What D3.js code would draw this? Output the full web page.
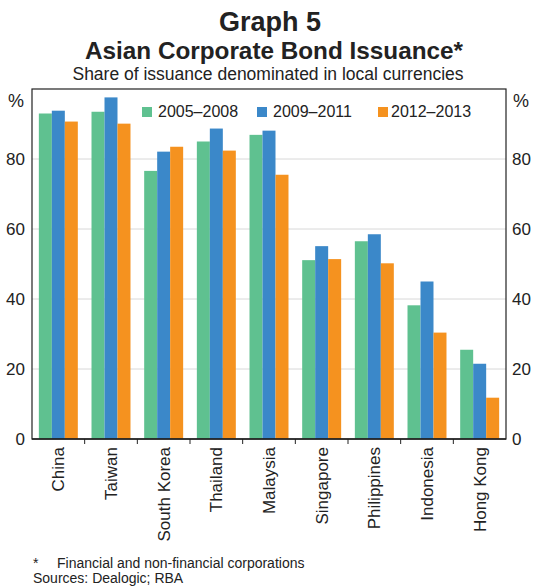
<!DOCTYPE html>
<html>
<head>
<meta charset="utf-8">
<script src="https://cdn.jsdelivr.net/npm/d3@7"></script>
<style>
  body { margin: 0; background: #fff; }
  svg { font-family: Arial, "Liberation Sans", sans-serif; }
</style>
</head>
<body>
<svg id="chart" width="535" height="588"></svg>
<script>
// Data
let countries = ['China', 'Taiwan', 'South Korea', 'Thailand', 'Malaysia', 'Singapore', 'Philippines', 'Indonesia', 'Hong Kong'];
let seriesNames = ['2005–2008', '2009–2011', '2012–2013'];
let s2005 = [93.0, 93.5, 76.6, 85.0, 86.9, 51.1, 56.5, 38.2, 25.5];
let s2009 = [93.8, 97.6, 82.1, 88.7, 88.1, 55.1, 58.5, 45.0, 21.5];
let s2012 = [90.7, 90.1, 83.5, 82.4, 75.5, 51.4, 50.2, 30.4, 11.8];
let yTicks = [0, 20, 40, 60, 80];
let colors = ['#5fc190', '#3b88c9', '#f5921f'];

let svg = d3.select('#chart');
let plotLeft = 32, plotRight = 506, plotTop = 89, plotBottom = 439;
let ink = '#222';

let x = d3.scaleBand().domain(countries).range([plotLeft, plotRight]).paddingInner(0.26).paddingOuter(0.13);
let xs = d3.scaleBand().domain(seriesNames).range([0, x.bandwidth()]);
let y = d3.scaleLinear().domain([0, 100]).range([plotBottom, plotTop]);

//Titulos
svg.append('text').attr('x', 270).attr('y', 31).attr('text-anchor', 'middle')
    .attr('font-size', 27).attr('font-weight', 'bold').attr('fill', ink).text('Graph 5');
svg.append('text').attr('x', 274).attr('y', 59).attr('text-anchor', 'middle')
    .attr('font-size', 24.3).attr('font-weight', 'bold').attr('fill', ink).text('Asian Corporate Bond Issuance*');
svg.append('text').attr('x', 268).attr('y', 80).attr('text-anchor', 'middle')
    .attr('font-size', 17.5).attr('fill', ink).text('Share of issuance denominated in local currencies');

//Rejilla
svg.append('g').selectAll('line').data(yTicks.filter(d => d > 0)).enter().append('line')
    .attr('x1', plotLeft).attr('x2', plotRight)
    .attr('y1', d => y(d)).attr('y2', d => y(d))
    .attr('stroke', '#d8d8d8').attr('stroke-width', 1);

//Barras
let data = countries.map((c, i) => ({country: c, values: [s2005[i], s2009[i], s2012[i]]}));
svg.append('g').selectAll('g').data(data).enter().append('g')
    .attr('transform', d => 'translate(' + x(d.country) + ',0)')
    .selectAll('rect').data(d => d.values.map((v, j) => ({name: seriesNames[j], v: v, j: j})))
    .enter().append('rect')
    .attr('x', d => xs(d.name))
    .attr('width', xs.bandwidth())
    .attr('y', d => y(d.v))
    .attr('height', d => y(0) - y(d.v))
    .attr('fill', d => colors[d.j]);

//Marco
svg.append('rect').attr('x', plotLeft).attr('y', plotTop).attr('width', plotRight - plotLeft).attr('height', plotBottom - plotTop)
    .attr('fill', 'none').attr('stroke', ink).attr('stroke-width', 1.2);

//Ejes
let yAxisL = d3.axisLeft(y).tickValues(yTicks).tickSize(0).tickPadding(7);
let yAxisR = d3.axisRight(y).tickValues(yTicks).tickSize(0).tickPadding(6);
let gl = svg.append('g').attr('transform', 'translate(' + plotLeft + ',0)').call(yAxisL);
let gr = svg.append('g').attr('transform', 'translate(' + plotRight + ',0)').call(yAxisR);
[gl, gr].forEach(g => {
    g.select('.domain').remove();
    g.selectAll('text').attr('font-size', 17).attr('fill', ink).attr('font-family', 'Arial, "Liberation Sans", sans-serif');
});
svg.append('text').attr('x', 16).attr('y', 107).attr('text-anchor', 'middle').attr('font-size', 18).attr('fill', ink).text('%');
svg.append('text').attr('x', 521).attr('y', 107).attr('text-anchor', 'middle').attr('font-size', 18).attr('fill', ink).text('%');

let step = x.step();
let boundaries = d3.range(1, countries.length).map(i => x(countries[i]) - step * x.paddingInner() / 2);
svg.append('g').selectAll('line').data(boundaries).enter().append('line')
    .attr('x1', d => d).attr('x2', d => d)
    .attr('y1', plotBottom).attr('y2', plotBottom + 5)
    .attr('stroke', ink).attr('stroke-width', 1);
svg.append('line').attr('x1', plotLeft).attr('x2', plotRight).attr('y1', plotBottom).attr('y2', plotBottom)
    .attr('stroke', ink).attr('stroke-width', 1.5);

let xAxis = d3.axisBottom(x).tickSize(0).tickPadding(0);
let gx = svg.append('g').attr('transform', 'translate(0,' + plotBottom + ')').call(xAxis);
gx.select('.domain').remove();
gx.selectAll('text')
    .attr('font-size', 17).attr('fill', ink).attr('font-family', 'Arial, "Liberation Sans", sans-serif')
    .attr('transform', 'rotate(-90)')
    .attr('text-anchor', 'end')
    .attr('x', -8).attr('y', 0).attr('dy', '0.35em');

//Leyenda
let legendX = [142, 257, 378];
let legend = svg.append('g').selectAll('g').data(seriesNames).enter().append('g')
    .attr('transform', (d, i) => 'translate(' + legendX[i] + ',111)');
legend.append('rect').attr('x', 0).attr('y', -4).attr('width', 10).attr('height', 10)
    .attr('fill', (d, i) => colors[i]);
legend.append('text').attr('x', (d, i) => i === 2 ? 13 : 16).attr('y', 6)
    .attr('font-size', 16).attr('fill', ink).text(d => d);

//Notas
svg.append('text').attr('x', 33).attr('y', 568).attr('font-size', 14).attr('fill', ink).text('*');
svg.append('text').attr('x', 57).attr('y', 568).attr('font-size', 14).attr('fill', ink).text('Financial and non-financial corporations');
svg.append('text').attr('x', 33).attr('y', 583).attr('font-size', 14).attr('fill', ink).text('Sources: Dealogic; RBA');
</script>
</body>
</html>
